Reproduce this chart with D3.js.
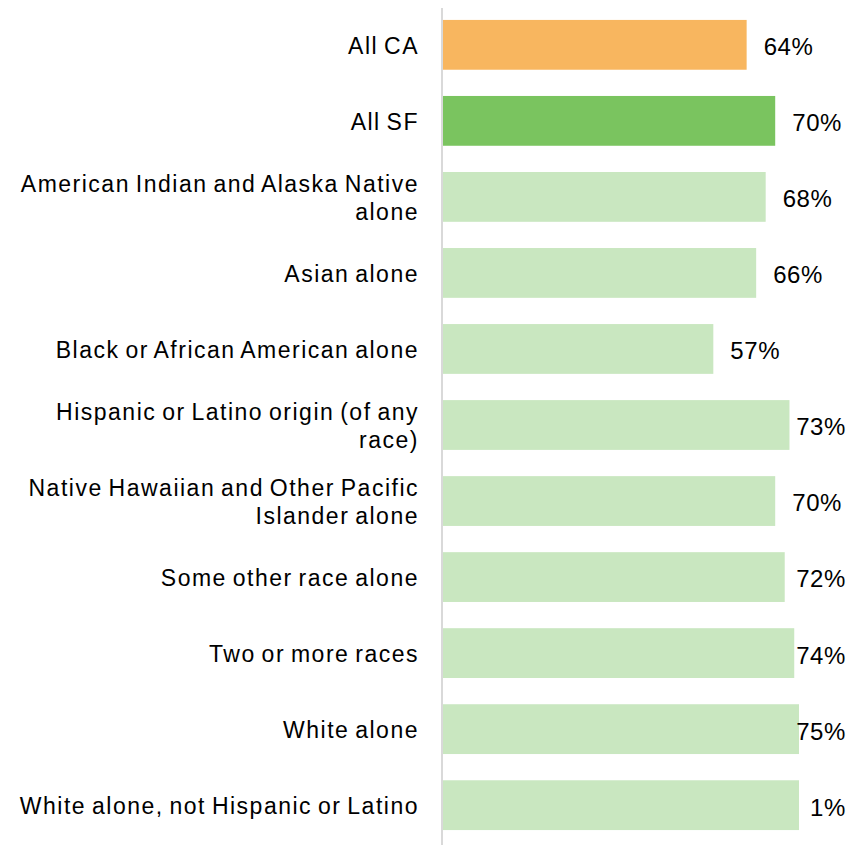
<!DOCTYPE html>
<html>
<head>
<meta charset="utf-8">
<script src="https://cdn.jsdelivr.net/npm/d3@7"></script>
<style>
  body { margin: 0; background: #fff; }
  svg text { font-family: "Liberation Sans", Arial, sans-serif; fill: #000; }
</style>
</head>
<body>
<div class="chart"></div>
<script>
var width = 867,
    height = 845;

// categories, bar values and the labels printed at the bar ends
var categories = ["All CA", "All SF", "American Indian and Alaska Native alone", "Asian alone",
  "Black or African American alone", "Hispanic or Latino origin (of any race)",
  "Native Hawaiian and Other Pacific Islander alone", "Some other race alone",
  "Two or more races", "White alone", "White alone, not Hispanic or Latino"];
var values = [64, 70, 68, 66, 57, 73, 70, 72, 74, 75, 75];
var valueLabels = ["64%", "70%", "68%", "66%", "57%", "73%", "70%", "72%", "74%", "75%", "1%"];
var barColors = ["#f8b65f", "#7ac45f", "#c9e7c0", "#c9e7c0", "#c9e7c0", "#c9e7c0",
  "#c9e7c0", "#c9e7c0", "#c9e7c0", "#c9e7c0", "#c9e7c0"];

var axisX = 442,
    plotRight = 846,
    labelRight = 419;

var svg = d3.select(".chart")
  .append("svg")
  .attr("width", width)
  .attr("height", height);

var x = d3.scaleLinear()
  .domain([0, 100])
  .range([axisX, axisX + 476]);

var y = d3.scaleBand()
  .domain(categories)
  .range([7, 843])
  .paddingInner(0.345)
  .paddingOuter(0.17);

// bars
svg.selectAll(".bar")
  .data(categories).enter()
  .append("rect")
  .attr("class", "bar")
  .attr("x", x(0))
  .attr("y", function(d){ return y(d); })
  .attr("width", function(d, i){ return x(values[i]) - x(0); })
  .attr("height", y.bandwidth())
  .attr("fill", function(d, i){ return barColors[i]; });

// axis line
svg.append("line")
  .attr("x1", axisX).attr("x2", axisX)
  .attr("y1", 8).attr("y2", height)
  .attr("stroke", "#d9d9d9")
  .attr("stroke-width", 2);

// value labels, pushed back inside the plot when they run over
var vl = svg.selectAll(".val")
  .data(categories).enter()
  .append("text")
  .attr("class", "val")
  .attr("font-size", "24px")
  .attr("letter-spacing", "0.6px")
  .attr("y", function(d){ return y(d) + y.bandwidth()/2 + 2; })
  .attr("dy", "0.35em")
  .text(function(d, i){ return valueLabels[i]; });
vl.each(function(d, i){
  var w = this.getComputedTextLength();
  var left = x(values[i]) + 17;
  if (left + w > plotRight) left = plotRight - w;
  d3.select(this).attr("x", left);
});

// category labels, wrapped to the label column
var maxW = 412;
var cl = svg.selectAll(".cat")
  .data(categories).enter()
  .append("text")
  .attr("class", "cat")
  .attr("font-size", "23px")
  .attr("letter-spacing", "1.5px")
  .attr("word-spacing", "-2px")
  .attr("text-anchor", "end");
cl.each(function(d){
  var t = d3.select(this);
  var words = d.split(" "), lines = [], line = [];
  var probe = t.append("tspan");
  words.forEach(function(w){
    line.push(w);
    probe.text(line.join(" "));
    if (probe.node().getComputedTextLength() > maxW && line.length > 1) {
      line.pop();
      lines.push(line.join(" "));
      line = [w];
    }
  });
  lines.push(line.join(" "));
  probe.remove();
  var lh = 28;
  var cy = y(d) + y.bandwidth()/2 - (lines.length - 1) * lh / 2 + 1;
  lines.forEach(function(s, k){
    t.append("tspan")
      .attr("x", labelRight)
      .attr("y", cy + k * lh)
      .attr("dy", "0.35em")
      .text(s);
  });
});
</script>
</body>
</html>
